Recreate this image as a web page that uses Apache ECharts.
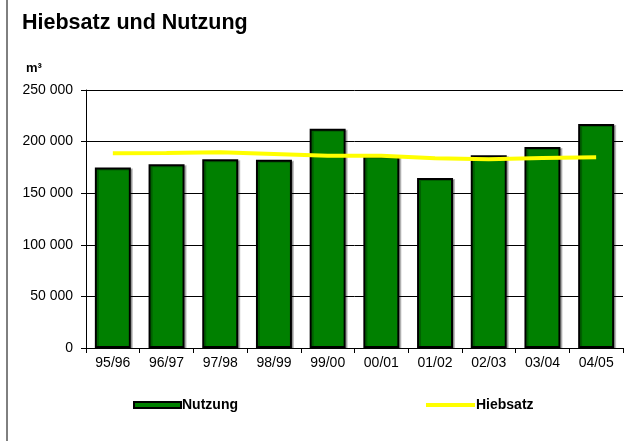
<!DOCTYPE html>
<html lang="de">
<head>
<meta charset="UTF-8">
<title>Hiebsatz und Nutzung</title>
<script src="https://cdn.jsdelivr.net/npm/echarts@6/dist/echarts.min.js"></script>
<style>
  html, body { margin: 0; padding: 0; background: #fff; }
</style>
</head>
<body>
<div id="main" style="width: 636px;height:441px;"></div>
<script>
  // Daten
  const jahre = ['95/96', '96/97', '97/98', '98/99', '99/00', '00/01', '01/02', '02/03', '03/04', '04/05'];
  const nutzung = [175000, 178000, 183000, 182500, 212500, 186500, 164700, 186700, 194800, 217000];
  const hiebsatz = [188700, 189000, 189600, 188000, 186300, 186300, 183800, 182900, 184100, 184800];

  const font = 'Liberation Sans, Arial, sans-serif';
  const fmt = v => String(v).replace(/\B(?=(\d{3})+(?!\d))/g, ' ');

  const myChart = echarts.init(document.getElementById('main'));
  const option = {
    animation: false,
    textStyle: { fontFamily: font },
    graphic: [
      {
        type: 'rect',
        shape: { x: 7, y: -2, width: 640, height: 450 },
        style: { fill: 'none', stroke: '#000', lineWidth: 1 }
      },
      {
        type: 'text', x: 22, y: 12,
        style: { text: 'Hiebsatz und Nutzung', font: 'bold 21.5px ' + font, fill: '#000' }
      },
      {
        type: 'text', x: 26, y: 62,
        style: { text: 'm³', font: 'bold 13px ' + font, fill: '#000' }
      }
    ],
    grid: { left: 86, right: 13, top: 90, bottom: 93 },
    legend: [
      {
        data: [{ name: 'Nutzung', icon: 'rect' }],
        left: 133, top: 398, padding: 0,
        itemWidth: 47, itemHeight: 6, itemGap: 4,
        textStyle: { fontWeight: 'bold', fontSize: 14, color: '#000', padding: [0, 0, 0, -4] }
      },
      {
        data: [{ name: 'Hiebsatz', icon: 'rect', itemStyle: { color: '#ffff00', borderWidth: 0 } }],
        left: 426, top: 398, padding: 0,
        itemWidth: 49, itemHeight: 4, itemGap: 4,
        textStyle: { fontWeight: 'bold', fontSize: 14, color: '#000', padding: [0, 0, 0, -4] }
      }
    ],
    xAxis: {
      type: 'category',
      data: jahre,
      axisLine: { lineStyle: { color: '#000', width: 1 } },
      axisTick: { show: true, length: 5, lineStyle: { color: '#000' } },
      axisLabel: { color: '#000', fontSize: 14, margin: 8 }
    },
    yAxis: {
      type: 'value',
      min: 0, max: 250000, interval: 50000,
      axisLine: { show: true, lineStyle: { color: '#000', width: 1 } },
      axisTick: { show: true, length: 5, lineStyle: { color: '#000' } },
      axisLabel: { color: '#000', fontSize: 14, margin: 13, formatter: fmt },
      splitLine: { lineStyle: { color: '#000', width: 1 } }
    },
    series: [
      {
        name: 'Nutzung',
        type: 'bar',
        data: nutzung,
        barCategoryGap: '33%',
        itemStyle: {
          color: '#008000', borderColor: '#000', borderWidth: 2,
          shadowColor: 'rgba(0,0,0,0.25)', shadowOffsetX: 2, shadowOffsetY: 1, shadowBlur: 0
        }
      },
      {
        name: 'Hiebsatz',
        type: 'line',
        data: hiebsatz,
        symbol: 'none',
        color: '#ffff00',
        lineStyle: { color: '#ffff00', width: 4 }
      }
    ]
  };
  myChart.setOption(option);
</script>
</body>
</html>
